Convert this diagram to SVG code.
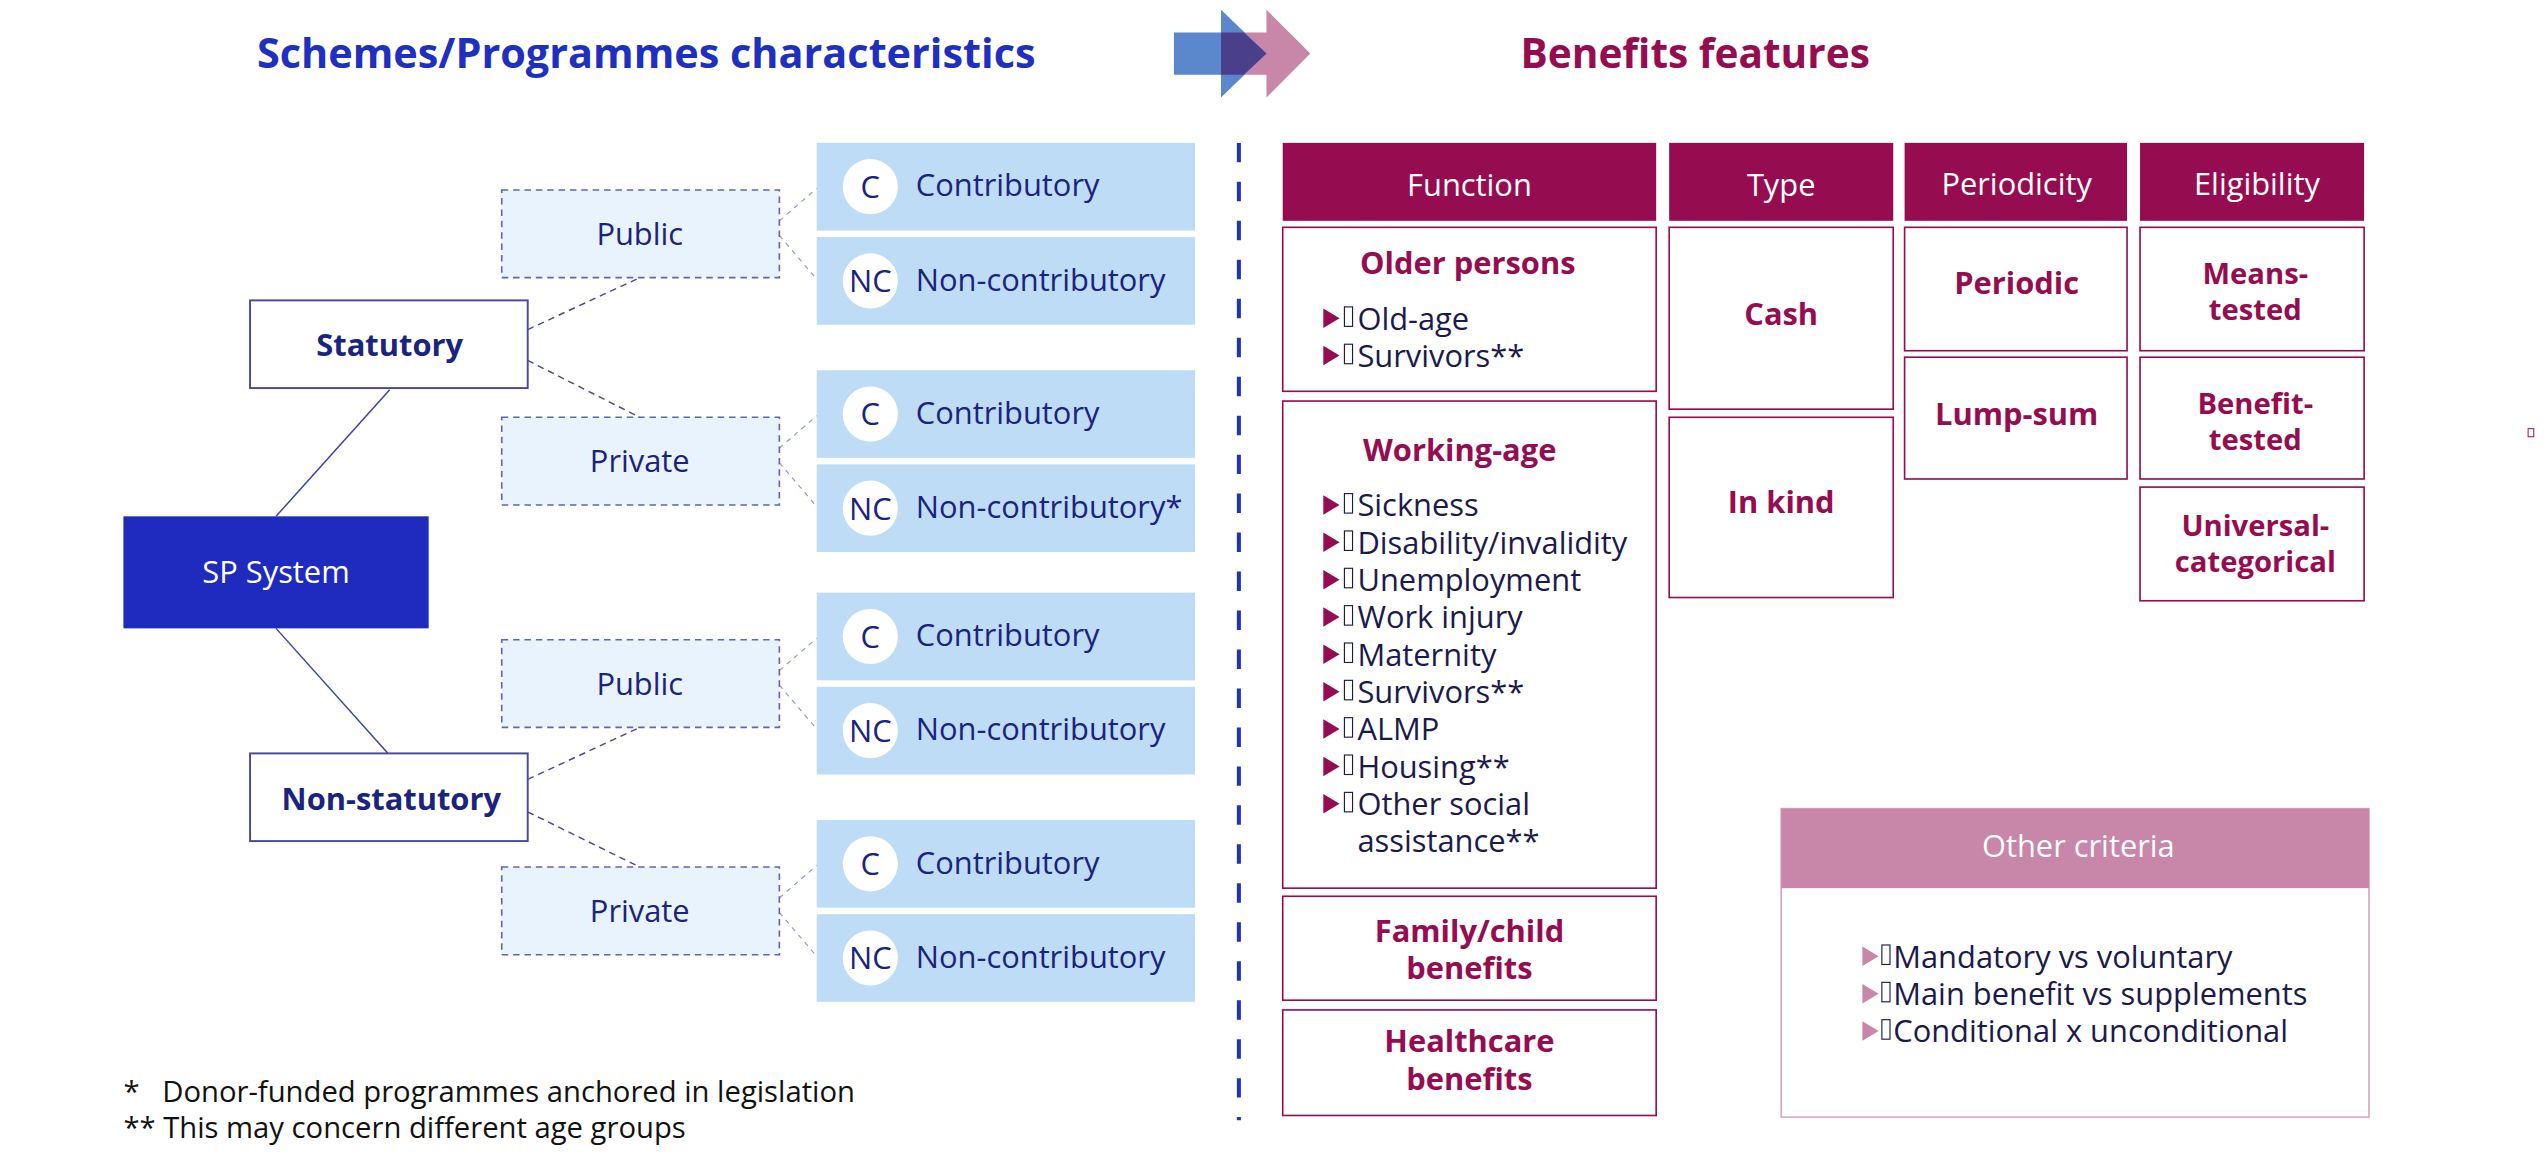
<svg xmlns="http://www.w3.org/2000/svg" width="2546" height="1164" viewBox="0 0 2546 1164">
<style>
text{font-family:"Open Sans","Noto Sans","DejaVu Sans",sans-serif}
.nv{fill:#1a237e;font-size:19px}
.nvb{fill:#1a237e;font-size:19px;font-weight:bold}
.mg{fill:#960c50;font-size:19px;font-weight:bold}
.mg2{fill:#960c50;font-size:18px;font-weight:bold}
.wh{fill:#fff;font-size:19px}
.it{fill:#1c1a4a;font-size:19px}
.dk{fill:#111;font-size:18px}
.cbox{fill:#bfdcf7}
.dbox{fill:#e8f3fd;stroke:#5a6aa8;stroke-width:1;stroke-dasharray:4 3}
.sbox{fill:#fff;stroke:#4a4a9a;stroke-width:1.2}
.mbox{fill:#fff;stroke:#960c50;stroke-width:1}
.hdr{fill:#960c50}
.circ{fill:#fff}
.tri{fill:#960c50}
.trp{fill:#c886a8}
.tofu{fill:none;stroke:#1c1a4a;stroke-width:0.7}
</style>
<rect width="2546" height="1164" fill="#fff"/>
<g transform="scale(1.6237)">
<g id="titles">
<text x="398" y="42" text-anchor="middle" style="font-size:25.5px;font-weight:bold;fill:#1f2fbf">Schemes/Programmes characteristics</text>
<text x="1044" y="42" text-anchor="middle" style="font-size:25px;font-weight:bold;fill:#960c50">Benefits features</text>
</g>
<g id="arrow">
<polygon points="752,20 780,20 780,6 807,33 780,60 780,46 752,46" fill="#c886a8"/>
<polygon points="723,20 752,20 752,6 780,33 752,60 752,46 723,46" fill="#5b87cc"/>
<polygon points="752,20 766,20 780,33 766,46 752,46" fill="#4a3f8a"/>
</g>
<line x1="763" y1="88" x2="763" y2="690" stroke="#2233bb" stroke-width="2.5" stroke-dasharray="12 12"/>
<g id="connectors" fill="none">
<line x1="170" y1="318" x2="240" y2="240" stroke="#3a3fb0" stroke-width="0.9"/>
<line x1="170" y1="387" x2="239" y2="464" stroke="#3a3fb0" stroke-width="0.9"/>
<g stroke="#4a4a8a" stroke-width="0.9" stroke-dasharray="4 3">
<line x1="325" y1="203" x2="394" y2="171"/>
<line x1="325" y1="222" x2="394" y2="257"/>
<line x1="325" y1="480" x2="394" y2="448"/>
<line x1="325" y1="500" x2="394" y2="534"/>
</g>
<g stroke="#8a9ac8" stroke-width="0.7" stroke-dasharray="3 3">
<line x1="480" y1="136" x2="503" y2="116"/><line x1="480" y1="145" x2="503" y2="172"/>
<line x1="480" y1="276" x2="503" y2="256"/><line x1="480" y1="285" x2="503" y2="312"/>
<line x1="480" y1="413" x2="503" y2="393"/><line x1="480" y1="422" x2="503" y2="449"/>
<line x1="480" y1="553" x2="503" y2="533"/><line x1="480" y1="562" x2="503" y2="589"/>
</g>
</g>
<g id="sp"><rect x="76" y="318" width="188" height="69" fill="#1f2bbf"/><text class="wh" x="170" y="359" text-anchor="middle">SP System</text></g>
<g id="statutory"><rect class="sbox" x="154" y="185" width="171" height="54"/><text class="nvb" x="240" y="219" text-anchor="middle">Statutory</text></g>
<g id="nonstatutory"><rect class="sbox" x="154" y="464" width="171" height="54"/><text class="nvb" x="241" y="499" text-anchor="middle">Non-statutory</text></g>
<g id="public1"><rect class="dbox" x="309" y="117" width="171" height="54"/><text class="nv" x="394" y="151" text-anchor="middle">Public</text></g>
<g id="private1"><rect class="dbox" x="309" y="257" width="171" height="54"/><text class="nv" x="394" y="291" text-anchor="middle">Private</text></g>
<g id="public2"><rect class="dbox" x="309" y="394" width="171" height="54"/><text class="nv" x="394" y="428" text-anchor="middle">Public</text></g>
<g id="private2"><rect class="dbox" x="309" y="534" width="171" height="54"/><text class="nv" x="394" y="568" text-anchor="middle">Private</text></g>
<g id="c1"><rect class="cbox" x="503" y="88" width="233" height="54"/><circle class="circ" cx="536" cy="115" r="17"/><text class="nv" x="536" y="122" text-anchor="middle">C</text><text class="nv" x="564" y="121">Contributory</text></g>
<g id="nc1"><rect class="cbox" x="503" y="146" width="233" height="54"/><circle class="circ" cx="536" cy="173" r="17"/><text class="nv" x="536" y="180" text-anchor="middle">NC</text><text class="nv" x="564" y="179">Non-contributory</text></g>
<g id="c2"><rect class="cbox" x="503" y="228" width="233" height="54"/><circle class="circ" cx="536" cy="255" r="17"/><text class="nv" x="536" y="262" text-anchor="middle">C</text><text class="nv" x="564" y="261">Contributory</text></g>
<g id="nc2"><rect class="cbox" x="503" y="286" width="233" height="54"/><circle class="circ" cx="536" cy="313" r="17"/><text class="nv" x="536" y="320" text-anchor="middle">NC</text><text class="nv" x="564" y="319">Non-contributory*</text></g>
<g id="c3"><rect class="cbox" x="503" y="365" width="233" height="54"/><circle class="circ" cx="536" cy="392" r="17"/><text class="nv" x="536" y="399" text-anchor="middle">C</text><text class="nv" x="564" y="398">Contributory</text></g>
<g id="nc3"><rect class="cbox" x="503" y="423" width="233" height="54"/><circle class="circ" cx="536" cy="450" r="17"/><text class="nv" x="536" y="457" text-anchor="middle">NC</text><text class="nv" x="564" y="456">Non-contributory</text></g>
<g id="c4"><rect class="cbox" x="503" y="505" width="233" height="54"/><circle class="circ" cx="536" cy="532" r="17"/><text class="nv" x="536" y="539" text-anchor="middle">C</text><text class="nv" x="564" y="538">Contributory</text></g>
<g id="nc4"><rect class="cbox" x="503" y="563" width="233" height="54"/><circle class="circ" cx="536" cy="590" r="17"/><text class="nv" x="536" y="597" text-anchor="middle">NC</text><text class="nv" x="564" y="596">Non-contributory</text></g>
<g id="headers">
<rect class="hdr" x="790" y="88" width="230" height="48"/><text class="wh" x="905" y="121" text-anchor="middle">Function</text>
<rect class="hdr" x="1028" y="88" width="138" height="48"/><text class="wh" x="1097" y="121" text-anchor="middle">Type</text>
<rect class="hdr" x="1173" y="88" width="137" height="48"/><text class="wh" x="1242" y="120" text-anchor="middle">Periodicity</text>
<rect class="hdr" x="1318" y="88" width="138" height="48"/><text class="wh" x="1390" y="120" text-anchor="middle">Eligibility</text>
</g>
<g id="older"><rect class="mbox" x="790" y="140" width="230" height="101"/><text class="mg" x="904" y="169" text-anchor="middle">Older persons</text>
<g class="tri"><polygon points="815,190 815,202 825,196"/><polygon points="815,213 815,225 825,219"/></g>
<rect class="tofu" x="828" y="189" width="5" height="12"/><rect class="tofu" x="828" y="212" width="5" height="12"/>
<text class="it" x="836" y="203">Old-age</text><text class="it" x="836" y="226">Survivors**</text></g>
<g id="working"><rect class="mbox" x="790" y="247" width="230" height="300"/><text class="mg" x="899" y="284" text-anchor="middle">Working-age</text>
<g class="tri"><polygon points="815,305 815,317 825,311"/><polygon points="815,328 815,340 825,334"/><polygon points="815,351 815,363 825,357"/><polygon points="815,374 815,386 825,380"/><polygon points="815,397 815,409 825,403"/><polygon points="815,420 815,432 825,426"/><polygon points="815,443 815,455 825,449"/><polygon points="815,466 815,478 825,472"/><polygon points="815,489 815,501 825,495"/></g>
<g><rect class="tofu" x="828" y="304" width="5" height="12"/><rect class="tofu" x="828" y="327" width="5" height="12"/><rect class="tofu" x="828" y="350" width="5" height="12"/><rect class="tofu" x="828" y="373" width="5" height="12"/><rect class="tofu" x="828" y="396" width="5" height="12"/><rect class="tofu" x="828" y="419" width="5" height="12"/><rect class="tofu" x="828" y="442" width="5" height="12"/><rect class="tofu" x="828" y="465" width="5" height="12"/><rect class="tofu" x="828" y="488" width="5" height="12"/></g>
<text class="it" x="836" y="318">Sickness</text><text class="it" x="836" y="341">Disability/invalidity</text><text class="it" x="836" y="364">Unemployment</text><text class="it" x="836" y="387">Work injury</text><text class="it" x="836" y="410">Maternity</text><text class="it" x="836" y="433">Survivors**</text><text class="it" x="836" y="456">ALMP</text><text class="it" x="836" y="479">Housing**</text><text class="it" x="836" y="502">Other social</text><text class="it" x="836" y="525">assistance**</text></g>
<g id="family"><rect class="mbox" x="790" y="552" width="230" height="64"/><text class="mg" x="905" y="580" text-anchor="middle">Family/child</text><text class="mg" x="905" y="603" text-anchor="middle">benefits</text></g>
<g id="health"><rect class="mbox" x="790" y="622" width="230" height="65"/><text class="mg" x="905" y="648" text-anchor="middle">Healthcare</text><text class="mg" x="905" y="671" text-anchor="middle">benefits</text></g>
<g id="cash"><rect class="mbox" x="1028" y="140" width="138" height="112"/><text class="mg" x="1097" y="200" text-anchor="middle">Cash</text></g>
<g id="inkind"><rect class="mbox" x="1028" y="257" width="138" height="111"/><text class="mg" x="1097" y="316" text-anchor="middle">In kind</text></g>
<g id="periodic"><rect class="mbox" x="1173" y="140" width="137" height="76"/><text class="mg" x="1242" y="181" text-anchor="middle">Periodic</text></g>
<g id="lumpsum"><rect class="mbox" x="1173" y="220" width="137" height="75"/><text class="mg" x="1242" y="262" text-anchor="middle">Lump-sum</text></g>
<g id="means"><rect class="mbox" x="1318" y="140" width="138" height="76"/><text class="mg2" x="1389" y="175" text-anchor="middle">Means-</text><text class="mg2" x="1389" y="197" text-anchor="middle">tested</text></g>
<g id="benefit"><rect class="mbox" x="1318" y="220" width="138" height="75"/><text class="mg2" x="1389" y="255" text-anchor="middle">Benefit-</text><text class="mg2" x="1389" y="277" text-anchor="middle">tested</text></g>
<g id="universal"><rect class="mbox" x="1318" y="300" width="138" height="70"/><text class="mg2" x="1389" y="330" text-anchor="middle">Universal-</text><text class="mg2" x="1389" y="352" text-anchor="middle">categorical</text></g>
<g id="other"><rect x="1097" y="498" width="362" height="190" fill="#fff" stroke="#d8a8c0" stroke-width="1"/><rect x="1097" y="498" width="362" height="49" fill="#c886a8"/>
<text class="wh" x="1280" y="528" text-anchor="middle">Other criteria</text>
<g class="trp"><polygon points="1147,583 1147,595 1157,589"/><polygon points="1147,606 1147,618 1157,612"/><polygon points="1147,629 1147,641 1157,635"/></g>
<rect class="tofu" x="1159" y="582" width="5" height="12"/><rect class="tofu" x="1159" y="605" width="5" height="12"/><rect class="tofu" x="1159" y="628" width="5" height="12"/>
<text class="it" x="1166" y="596">Mandatory vs voluntary</text><text class="it" x="1166" y="619">Main benefit vs supplements</text><text class="it" x="1166" y="642">Conditional x unconditional</text></g>
<rect x="1557" y="264" width="3.5" height="5" fill="none" stroke="#960c50" stroke-width="0.6"/>
<g id="notes"><text class="dk" x="76" y="679" xml:space="preserve">*   Donor-funded programmes anchored in legislation</text><text class="dk" x="76" y="701">** This may concern different age groups</text></g>
</g>
</svg>
